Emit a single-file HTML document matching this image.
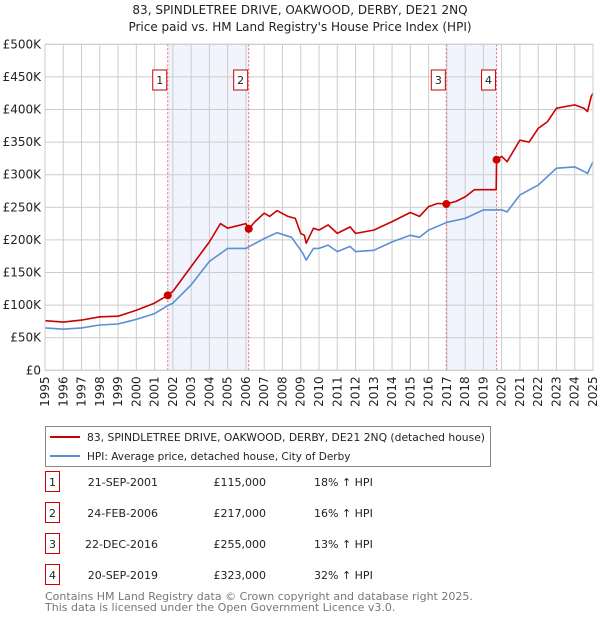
<!DOCTYPE html>
<html><head><meta charset="utf-8"><style>
body{margin:0;background:#fff;font-family:"DejaVu Sans","Liberation Sans",sans-serif;}
#wrap{position:relative;width:600px;height:620px;overflow:hidden}
svg text{font-family:"DejaVu Sans","Liberation Sans",sans-serif}
</style></head><body><div id="wrap">
<svg id="c" width="600" height="620"></svg>
</div>
<script>
const yearTicks=[1995,1996,1997,1998,1999,2000,2001,2002,2003,2004,2005,2006,2007,2008,2009,2010,2011,2012,2013,2014,2015,2016,2017,2018,2019,2020,2021,2022,2023,2024,2025];
const valueTicks=[0,50000,100000,150000,200000,250000,300000,350000,400000,450000,500000];
const valueTickLabels=["£0","£50K","£100K","£150K","£200K","£250K","£300K","£350K","£400K","£450K","£500K"];
const hpiYears=[1995,1996,1997,1998,1999,2000,2001,2001.7,2002,2003,2004,2005,2006,2007,2007.7,2008.5,2009.1,2009.3,2009.7,2010,2010.5,2011,2011.7,2012,2013,2014,2015,2015.5,2016,2017,2018,2019,2020,2020.3,2021,2022,2023,2024,2024.5,2024.7,2025];
const hpiValues=[65000,63000,65000,69500,71000,78000,87000,99000,103000,131000,167000,187000,187000,202000,211000,204000,180000,169000,187000,187000,192000,182000,190000,182000,184000,197000,207000,204000,215000,227000,233000,246000,246000,243000,269000,284000,310000,312000,305000,302000,320000];
const propYears=[1995,1996,1997,1998,1999,2000,2001,2001.72,2002,2003,2004,2004.6,2005,2006,2006.15,2006.5,2007,2007.3,2007.7,2008.3,2008.7,2009,2009.2,2009.3,2009.7,2010,2010.5,2011,2011.7,2012,2013,2014,2015,2015.5,2016,2016.5,2016.97,2017.5,2018,2018.5,2019.7,2019.72,2020,2020.3,2021,2021.5,2022,2022.5,2023,2024,2024.5,2024.7,2024.9,2025];
const propValues=[76000,74000,77000,82000,83000,92000,103000,115000,121000,159000,197000,225000,218000,225000,217000,228000,241000,236000,245000,236000,233000,210000,207000,195000,218000,215000,223000,210000,220000,210000,215000,228000,242000,236000,251000,256000,255000,259000,266000,277000,277000,323000,328000,320000,353000,350000,371000,381000,402000,407000,402000,397000,420000,425000];
const saleLabels=["1","2","3","4"];
const saleYears=[2001.72,2006.15,2016.97,2019.72];
const salePrices=[115000,217000,255000,323000];
const saleDates=["21-SEP-2001","24-FEB-2006","22-DEC-2016","20-SEP-2019"];
const salePriceText=["£115,000","£217,000","£255,000","£323,000"];
const saleHpi=["18% ↑ HPI","16% ↑ HPI","13% ↑ HPI","32% ↑ HPI"];

const X0=45,X1=593,Y0=370.3,Y1=44.3;
const sx=y=>X0+(y-1995)/(2025-1995)*(X1-X0);
const sy=v=>Y0-(v/500000)*(Y0-Y1);
const svg=document.getElementById('c');const NS='http://www.w3.org/2000/svg';
function mk(t,a,p){const e=document.createElementNS(NS,t);for(const k in a)e.setAttribute(k,a[k]);(p||svg).appendChild(e);return e;}
function txt(s,a){const e=mk('text',a);e.textContent=s;return e;}

let t=txt("83, SPINDLETREE DRIVE, OAKWOOD, DERBY, DE21 2NQ",{x:300,y:14,'text-anchor':'middle','font-size':12,fill:'#222'});


t=txt("Price paid vs. HM Land Registry's House Price Index (HPI)",{x:300,y:31,'text-anchor':'middle','font-size':12,fill:'#222'});



for(let i=0;i<saleYears.length;i+=2){
  const r=mk('rect',{x:sx(saleYears[i]),y:Y1,width:sx(saleYears[i+1])-sx(saleYears[i]),height:Y0-Y1,fill:'#f1f4fd'});
  
  
}
valueTicks.forEach((v,i)=>{
  const l=mk('line',{x1:X0,x2:X1,y1:sy(v),y2:sy(v),stroke:'#cccccc','stroke-width':1});
  
  
  const tt=txt(valueTickLabels[i],{x:X0-4,y:sy(v)+4,'text-anchor':'end','font-size':12,fill:'#222'});
  
  
});
yearTicks.forEach(y=>{
  const l=mk('line',{x1:sx(y),x2:sx(y),y1:Y1,y2:Y0,stroke:'#cccccc','stroke-width':1});
  
  
  const tt=txt(String(y),{x:0,y:0,'text-anchor':'end','font-size':12,fill:'#222',transform:`translate(${sx(y)+4},${Y0+6}) rotate(-90)`});
  
  
});
saleYears.forEach(y=>{
  const l=mk('line',{x1:sx(y),x2:sx(y),y1:Y1,y2:Y0,stroke:'#ee6666','stroke-width':1,'stroke-dasharray':'2,2'});
  
  
});
function path(xs,vs,col,name){
  const d=xs.map((x,i)=>(i?'L':'M')+sx(x).toFixed(1)+','+sy(vs[i]).toFixed(1)).join('');
  const p=mk('path',{d:d,fill:'none',stroke:col,'stroke-width':1.6,'stroke-linejoin':'round'});
  
  
}
path(hpiYears,hpiValues,'#5b8fd4','hpi-line');
path(propYears,propValues,'#cc0000','property-price-line');
saleYears.forEach((y,i)=>{
  const c=mk('circle',{cx:sx(y),cy:sy(salePrices[i]),r:4,fill:'#cc0000'});
  
  
  const g=mk('g',{});
  
  
  mk('rect',{x:sx(y)-15,y:70,width:14,height:20,fill:'#fff',stroke:'#cc0000','stroke-width':1},g);
  const tx=mk('text',{x:sx(y)-8,y:84,'text-anchor':'middle','font-size':11,fill:'#222'},g);tx.textContent=saleLabels[i];
});
mk('rect',{x:X0,y:Y1,width:X1-X0,height:Y0-Y1,fill:'none',stroke:'#cccccc'});

const lg=mk('g',{});


mk('rect',{x:45.5,y:426.5,width:445,height:40,fill:'#fff',stroke:'#888'},lg);
mk('line',{x1:50,x2:80,y1:437,y2:437,stroke:'#cc0000','stroke-width':2},lg);
mk('line',{x1:50,x2:80,y1:456,y2:456,stroke:'#5b8fd4','stroke-width':2},lg);
let e=mk('text',{x:87,y:441,'font-size':10.5,fill:'#222',textLength:398,lengthAdjust:'spacingAndGlyphs'},lg);e.textContent="83, SPINDLETREE DRIVE, OAKWOOD, DERBY, DE21 2NQ (detached house)";
e=mk('text',{x:87,y:460,'font-size':10.5,fill:'#222'},lg);e.textContent="HPI: Average price, detached house, City of Derby";

const rowsY=[483,514,545,576];
saleLabels.forEach((s,i)=>{
  const g=mk('g',{});
  
  
  const y=rowsY[i];
  mk('rect',{x:45.5,y:y-11.5,width:14,height:20,fill:'#fff',stroke:'#cc0000'},g);
  let q=mk('text',{x:52.5,y:y+3,'text-anchor':'middle','font-size':11,fill:'#222'},g);q.textContent=s;
  q=mk('text',{x:158,y:y+3,'text-anchor':'end','font-size':11,fill:'#222'},g);q.textContent=saleDates[i];
  q=mk('text',{x:266,y:y+3,'text-anchor':'end','font-size':11,fill:'#222'},g);q.textContent=salePriceText[i];
  q=mk('text',{x:314,y:y+3,'font-size':11,fill:'#222'},g);q.textContent=saleHpi[i];
});
e=txt("Contains HM Land Registry data © Crown copyright and database right 2025.",{x:45,y:600,'font-size':11,fill:'#777'});


e=txt("This data is licensed under the Open Government Licence v3.0.",{x:45,y:611,'font-size':11,fill:'#777'});


</script></body></html>
